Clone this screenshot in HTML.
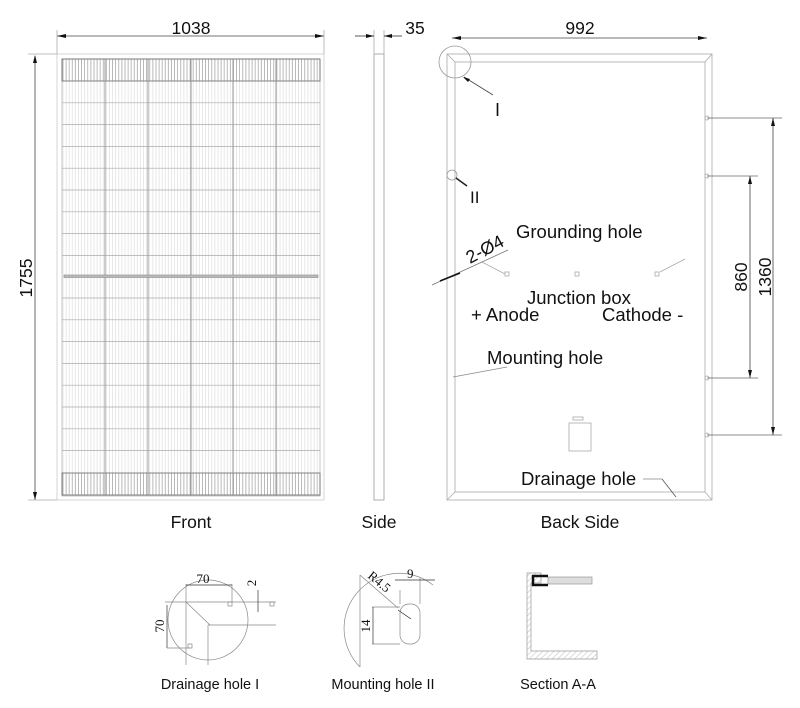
<!DOCTYPE html>
<html><head><meta charset="utf-8"><style>
html,body{margin:0;padding:0;background:#fff}
svg{display:block}
text{font-family:"Liberation Sans",sans-serif;fill:#111}
</style></head><body>
<svg width="800" height="708" viewBox="0 0 800 708" xmlns="http://www.w3.org/2000/svg">
<defs>
<pattern id="vl" x="62" y="0" width="3.1" height="10" patternUnits="userSpaceOnUse">
<line x1="1" y1="0" x2="1" y2="10" stroke="#dadada" stroke-width="0.6"/>
</pattern>
<pattern id="vd" x="62" y="0" width="3.1" height="10" patternUnits="userSpaceOnUse">
<line x1="1" y1="0" x2="1" y2="10" stroke="#999" stroke-width="0.6"/>
</pattern>
<pattern id="hatch" width="4" height="4" patternUnits="userSpaceOnUse" patternTransform="rotate(45)">
<line x1="0" y1="0" x2="0" y2="4" stroke="#aaa" stroke-width="0.8"/>
</pattern>
</defs>
<g stroke="#222" fill="none" stroke-width="0.8">
<!-- FRONT -->
<rect x="57" y="54" width="267" height="446" stroke="#ccc"/>
<rect x="62" y="59" width="258" height="437" fill="url(#vl)" stroke="#bbb"/>
<rect x="62" y="59" width="258" height="22" fill="url(#vd)" stroke="#666"/>
<rect x="62" y="473" width="258" height="22" fill="url(#vd)" stroke="#666"/>
<g stroke="#aaa" stroke-width="0.7">
<line x1="62" y1="102.8" x2="320" y2="102.8"/><line x1="62" y1="124.6" x2="320" y2="124.6"/>
<line x1="62" y1="146.4" x2="320" y2="146.4"/><line x1="62" y1="168.2" x2="320" y2="168.2"/>
<line x1="62" y1="190" x2="320" y2="190"/><line x1="62" y1="211.8" x2="320" y2="211.8"/>
<line x1="62" y1="233.6" x2="320" y2="233.6"/><line x1="62" y1="255.4" x2="320" y2="255.4"/>
<line x1="62" y1="298" x2="320" y2="298"/><line x1="62" y1="319.8" x2="320" y2="319.8"/>
<line x1="62" y1="341.6" x2="320" y2="341.6"/><line x1="62" y1="363.4" x2="320" y2="363.4"/>
<line x1="62" y1="385.2" x2="320" y2="385.2"/><line x1="62" y1="407" x2="320" y2="407"/>
<line x1="62" y1="428.8" x2="320" y2="428.8"/><line x1="62" y1="450.6" x2="320" y2="450.6"/>
</g>
<g stroke="#999" stroke-width="1">
<line x1="105" y1="59" x2="105" y2="496"/><line x1="148" y1="59" x2="148" y2="496"/>
<line x1="191" y1="59" x2="191" y2="496"/><line x1="233" y1="59" x2="233" y2="496"/>
<line x1="276" y1="59" x2="276" y2="496"/>
</g>
<rect x="64" y="275" width="254" height="2.5" fill="#bbb" stroke="#888" stroke-width="0.6"/>
<!-- dims front -->
<line x1="57" y1="36" x2="324" y2="36" stroke="#444"/>
<line x1="57" y1="30" x2="57" y2="54" stroke="#aaa"/><line x1="324" y1="30" x2="324" y2="54" stroke="#aaa"/>
<line x1="35" y1="56" x2="35" y2="500" stroke="#444"/>
<line x1="28" y1="54" x2="57" y2="54" stroke="#aaa"/><line x1="28" y1="500" x2="57" y2="500" stroke="#aaa"/>
<!-- SIDE -->
<rect x="374" y="54" width="10" height="446" stroke="#999"/>
<line x1="374" y1="30" x2="374" y2="54" stroke="#aaa"/><line x1="384" y1="30" x2="384" y2="54" stroke="#aaa"/>
<line x1="355" y1="36" x2="374" y2="36"/><line x1="384" y1="36" x2="402" y2="36"/>
<!-- BACK -->
<rect x="447" y="54" width="265" height="446" stroke="#aaa"/>
<rect x="455" y="62" width="250" height="430" stroke="#aaa"/>
<line x1="447" y1="54" x2="455" y2="62" stroke="#aaa"/><line x1="712" y1="54" x2="705" y2="62" stroke="#aaa"/>
<line x1="447" y1="500" x2="455" y2="492" stroke="#aaa"/><line x1="712" y1="500" x2="705" y2="492" stroke="#aaa"/>
<circle cx="455" cy="62" r="16" stroke="#999"/>
<line x1="464" y1="77" x2="493" y2="95" stroke="#444"/>
<circle cx="452" cy="175" r="5" stroke="#999"/>
<line x1="456" y1="178" x2="467" y2="186" stroke="#222" stroke-width="1.5"/>
<g stroke="#aaa">
<circle cx="707" cy="118" r="2"/><circle cx="707" cy="176" r="2"/><circle cx="707" cy="378" r="2"/><circle cx="707" cy="435" r="2"/>
<rect x="569" y="423" width="22" height="28"/><rect x="573" y="417" width="10" height="3"/>
<rect x="505" y="272" width="4" height="4"/><rect x="575" y="272" width="4" height="4"/><rect x="655" y="272" width="4" height="4"/>
<line x1="482" y1="262" x2="505" y2="274"/><line x1="660" y1="272" x2="685" y2="259"/>
</g>
<line x1="432" y1="285" x2="508" y2="250" stroke="#777"/>
<line x1="440" y1="281" x2="460" y2="273" stroke="#111" stroke-width="1.5"/>
<line x1="453" y1="377" x2="507" y2="367" stroke="#888"/>
<line x1="643" y1="479" x2="662" y2="479" stroke="#888"/><line x1="662" y1="479" x2="676" y2="497" stroke="#555"/>
<!-- back dims -->
<line x1="452" y1="38" x2="707" y2="38" stroke="#444"/>
<line x1="707" y1="118" x2="782" y2="118" stroke="#666"/><line x1="707" y1="176" x2="758" y2="176" stroke="#666"/>
<line x1="707" y1="378" x2="758" y2="378" stroke="#666"/><line x1="707" y1="435" x2="782" y2="435" stroke="#666"/>
<line x1="750" y1="176" x2="750" y2="378" stroke="#444"/>
<line x1="773" y1="118" x2="773" y2="435" stroke="#444"/>
</g>
<!-- arrowheads -->
<g fill="#111">
<polygon points="57,36 66,34 66,38"/><polygon points="324,36 315,34 315,38"/>
<polygon points="35,55 33,63 37,63"/><polygon points="35,500 33,492 37,492"/>
<polygon points="374,36 366,34 366,38"/><polygon points="384,36 392,34 392,38"/>
<polygon points="452,38 461,36 461,40"/><polygon points="707,38 698,36 698,40"/>
<polygon points="750,176 748,184 752,184"/><polygon points="750,378 748,370 752,370"/>
<polygon points="773,118 771,126 775,126"/><polygon points="773,435 771,427 775,427"/>
<polygon points="463,77 470,79 468,82"/>
</g>
<!-- texts -->
<text x="191" y="34" font-size="17.5" text-anchor="middle">1038</text>
<text x="415" y="34" font-size="17.5" text-anchor="middle">35</text>
<text x="580" y="34" font-size="17.5" text-anchor="middle">992</text>
<text transform="translate(32,278) rotate(-90)" font-size="17.5" text-anchor="middle">1755</text>
<text transform="translate(747,277) rotate(-90)" font-size="17.5" text-anchor="middle">860</text>
<text transform="translate(771,277) rotate(-90)" font-size="17.5" text-anchor="middle">1360</text>
<text x="495" y="116" font-size="18">I</text>
<text x="470" y="203" font-size="17">II</text>
<text x="516" y="238" font-size="18.5">Grounding hole</text>
<text transform="translate(470,264) rotate(-28)" font-size="18">2-Ø4</text>
<text x="527" y="304" font-size="18.5">Junction box</text>
<text x="471" y="321" font-size="18.5">+ Anode</text>
<text x="602" y="321" font-size="18.5">Cathode -</text>
<text x="487" y="364" font-size="18.5">Mounting hole</text>
<text x="521" y="485" font-size="18.5">Drainage hole</text>
<text x="191" y="528" font-size="17.5" text-anchor="middle">Front</text>
<text x="379" y="528" font-size="17.5" text-anchor="middle">Side</text>
<text x="580" y="528" font-size="17.5" text-anchor="middle">Back Side</text>
<!-- details -->
<g stroke="#888" fill="none" stroke-width="0.7">
<circle cx="208" cy="620" r="40"/>
<line x1="165" y1="602" x2="276" y2="602"/><line x1="186" y1="602" x2="210" y2="625"/>
<line x1="208" y1="625" x2="276" y2="625"/><line x1="208" y1="625" x2="208" y2="665"/>
<line x1="186" y1="584" x2="186" y2="665"/><line x1="232" y1="584" x2="232" y2="602"/>
<line x1="186" y1="585" x2="232" y2="585" stroke="#333"/>
<line x1="258" y1="590" x2="258" y2="612" stroke="#333"/>
<line x1="167" y1="605" x2="167" y2="648" stroke="#333"/>
<line x1="167" y1="648" x2="190" y2="648"/>
<rect x="228" y="602" width="4" height="4"/><rect x="270" y="602" width="4" height="4"/><rect x="188" y="644" width="4" height="4"/>
<path d="M360 667 A55 55 0 0 1 433 585"/>
<line x1="360" y1="575" x2="360" y2="667"/>
<line x1="360" y1="575" x2="398" y2="608"/>
<rect x="400" y="604" width="20" height="40" rx="9"/>
<line x1="400" y1="590" x2="400" y2="604"/><line x1="420" y1="578" x2="420" y2="604"/>
<line x1="395" y1="580" x2="435" y2="580" stroke="#333"/>
<line x1="372" y1="607" x2="400" y2="607"/><line x1="372" y1="644" x2="400" y2="644"/>
<line x1="373" y1="607" x2="373" y2="644" stroke="#333"/>
<line x1="398" y1="610" x2="411" y2="619" stroke="#222"/>
</g>
<g>
<path d="M527 573 h14 v10 h-10 v68 h66 v8 h-70 z" fill="url(#hatch)" stroke="#999" stroke-width="0.7"/>
<rect x="548" y="577" width="44" height="7" fill="#ddd" stroke="#999" stroke-width="0.7"/>
<path d="M548 576 h-15 v9 h15" fill="none" stroke="#111" stroke-width="2.5"/>
</g>
<text x="203" y="583" font-size="13" style="font-family:'Liberation Serif',serif" text-anchor="middle">70</text>
<text transform="translate(256,583) rotate(-90)" font-size="13" style="font-family:'Liberation Serif',serif" text-anchor="middle">2</text>
<text transform="translate(164,626) rotate(-90)" font-size="13" style="font-family:'Liberation Serif',serif" text-anchor="middle">70</text>
<text transform="translate(367,577) rotate(40)" font-size="13" style="font-family:'Liberation Serif',serif">R4.5</text>
<text x="407" y="578" font-size="13" style="font-family:'Liberation Serif',serif">9</text>
<text transform="translate(370,626) rotate(-90)" font-size="13" style="font-family:'Liberation Serif',serif" text-anchor="middle">14</text>
<text x="210" y="689" font-size="14.5" text-anchor="middle">Drainage hole I</text>
<text x="383" y="689" font-size="14.5" text-anchor="middle">Mounting hole II</text>
<text x="558" y="689" font-size="14.5" text-anchor="middle">Section A-A</text>
</svg>
</body></html>
